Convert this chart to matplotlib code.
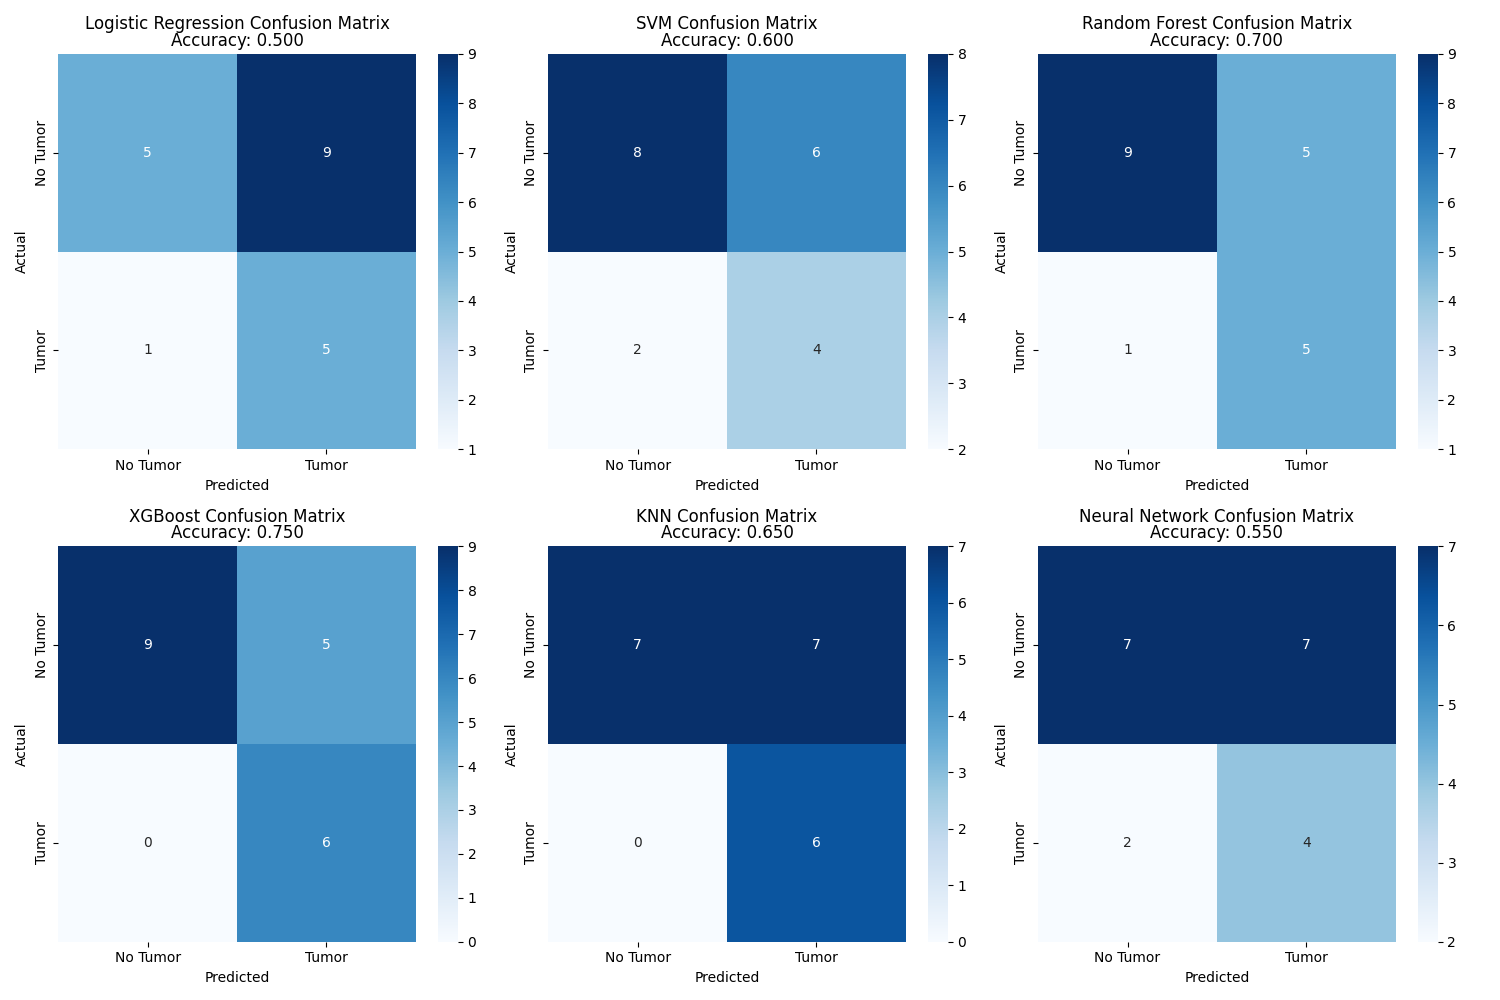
import matplotlib

matplotlib.use("Agg")
import matplotlib.pyplot as plt
import numpy as np
import seaborn as sns

# confusion matrices, rows = actual, cols = predicted
model_names = ["Logistic Regression", "SVM", "Random Forest", "XGBoost", "KNN", "Neural Network"]
accuracies = [0.500, 0.600, 0.700, 0.750, 0.650, 0.550]
cm_logreg = [[5, 9], [1, 5]]
cm_svm = [[8, 6], [2, 4]]
cm_rf = [[9, 5], [1, 5]]
cm_xgb = [[9, 5], [0, 6]]
cm_knn = [[7, 7], [0, 6]]
cm_nn = [[7, 7], [2, 4]]
matrices = [cm_logreg, cm_svm, cm_rf, cm_xgb, cm_knn, cm_nn]
class_labels = ["No Tumor", "Tumor"]


def main():
    fig, axes = plt.subplots(2, 3, figsize=(15, 10))
    for ax, name, acc, cm in zip(axes.ravel(), model_names, accuracies, matrices):
        sns.heatmap(
            np.array(cm),
            annot=True,
            fmt="d",
            cmap="Blues",
            xticklabels=class_labels,
            yticklabels=class_labels,
            ax=ax,
        )
        ax.set_title(f"{name} Confusion Matrix\nAccuracy: {acc:.3f}", linespacing=0.9)
        ax.set_xlabel("Predicted")
        ax.set_ylabel("Actual")
    fig.tight_layout()
    fig.savefig("out.png", dpi=100)
    plt.close(fig)


if __name__ == "__main__":
    main()
